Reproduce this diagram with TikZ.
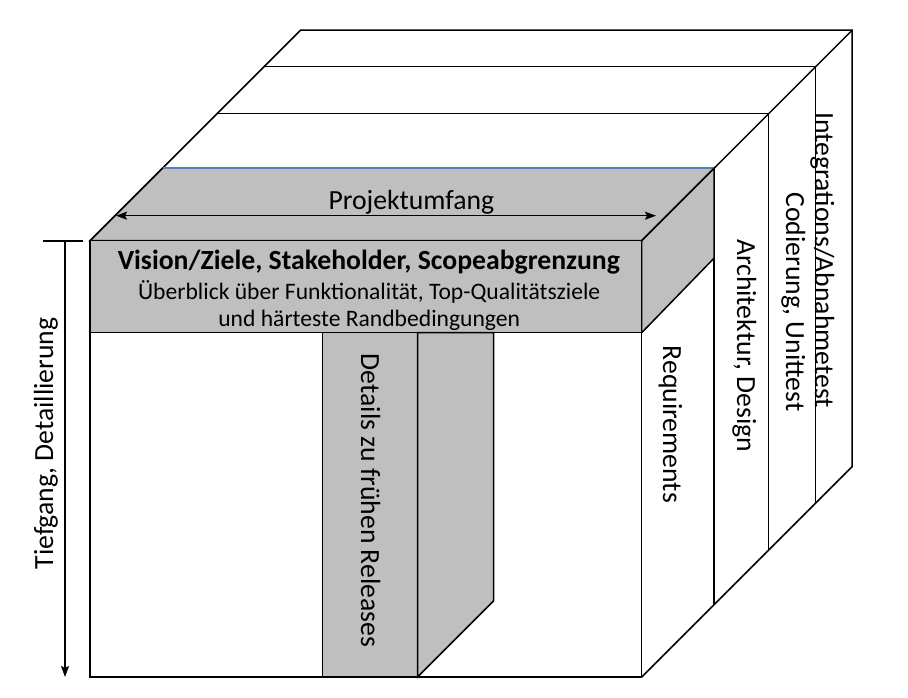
\documentclass[tikz,border=0pt]{standalone}
\usepackage{fontspec}
\setmainfont{Carlito}
\usetikzlibrary{arrows.meta}
\definecolor{slab}{RGB}{191,191,191}
\definecolor{edgeblue}{RGB}{84,128,186}
\begin{document}
\begin{tikzpicture}[x=1bp,y=-1bp,line width=1.5bp,line join=miter,
  whiteface/.style={draw=black,fill=white},
  grayface/.style={draw=black,fill=slab},
  lbl/.style={font=\fontsize{27.7bp}{32bp}\selectfont,inner sep=0pt},
  smalllbl/.style={font=\fontsize{23.6bp}{28bp}\selectfont,inner sep=0pt,anchor=base},
  boldlbl/.style={font=\fontsize{27.7bp}{32bp}\selectfont\bfseries,inner sep=0pt,anchor=base},
  vlbl/.style={lbl,rotate=-90,anchor=base west},
  dimarrow/.style={-{Stealth[length=11bp,width=8bp,inset=2bp]}},
  dimarrows/.style={{Stealth[length=11bp,width=8bp,inset=2bp]}-{Stealth[length=11bp,width=8bp,inset=2bp]}}]
\useasboundingbox (0,0) rectangle (908,698);
% front face corners
\coordinate (FTL) at (90,240.7);
\coordinate (FTR) at (641.7,240.7);
\coordinate (FBR) at (641.7,677);
\coordinate (FBL) at (90,677);
\coordinate (SFL) at (90,332.7);
\coordinate (SF) at (641.7,332.7);
% layer back corners
\foreach \k/\d in {1/72.5,2/127,3/174,4/210.5}{
  \coordinate (TL\k) at (90+\d,240.7-\d);
  \coordinate (TR\k) at (641.7+\d,240.7-\d);
  \coordinate (BR\k) at (641.7+\d,677-\d);
}
\coordinate (SB1) at (714.2,258);
% whole cube outline
\fill[white] (FTL)--(TL4)--(TR4)--(BR4)--(FBR)--(FBL)--cycle;
\draw (FTL)--(TL4)--(TR4)--(BR4)--(FBR);
\draw (TL3)--(TR3)--(BR3);
\draw (TL2)--(TR2)--(BR2);
\draw (TR1)--(BR1);
% gray slab (layer 1 top)
\filldraw[grayface] (FTL)--(TL1)--(TR1)--(FTR)--cycle;
\draw[edgeblue] (TL1)--(TR1);
\filldraw[grayface] (FTR)--(TR1)--(SB1)--(SF)--cycle;
\draw (FTR)--(TR4);
\filldraw[grayface] (FTL) rectangle (SF);
\filldraw[whiteface] (SFL) rectangle (FBR);
% strip
\coordinate (STL) at (322.7,332.7);
\coordinate (STR) at (417.5,332.7);
\coordinate (SBR) at (417.5,677);
\coordinate (SKT) at (493.5,332.7);
\coordinate (SKB) at (493.5,601);
\filldraw[grayface] (STL) rectangle (SBR);
\filldraw[grayface] (STR)--(SKT)--(SKB)--(SBR)--cycle;
% dimension arrows
\coordinate (PA) at (116,215.7);
\coordinate (PB) at (656,215.7);
\draw[dimarrows] (PA)--(PB);
\coordinate (TA) at (43,241);
\coordinate (TB) at (83,241);
\coordinate (VA) at (65,241);
\coordinate (VB) at (65,677);
\draw (TA)--(TB);
\draw[dimarrow] (VA)--(VB);
% texts
\node[lbl,anchor=base] (proj) at (411.3,209.3) {Projektumfang};
\node[boldlbl] (vis) at (368.8,269.3) {Vision/Ziele, Stakeholder, Scopeabgrenzung};
\node[smalllbl] (ueb) at (369.2,299) {Überblick über Funktionalität, Top-Qualitätsziele};
\node[smalllbl] (und) at (369.2,326.7) {und härteste Randbedingungen};
\node[vlbl] (det) at (361,353) {Details zu frühen Releases};
\node[lbl,rotate=90,anchor=base west] (tief) at (53,570) {Tiefgang, Detaillierung};
\node[vlbl] (req) at (663,345) {Requirements};
\node[vlbl] (arch) at (737,238.3) {Architektur, Design};
\node[vlbl] (cod) at (786,191.7) {Codierung, Unittest};
\node[vlbl] (int) at (815,111.7) {Integrations/Abnahmetest};
\end{tikzpicture}
\end{document}
